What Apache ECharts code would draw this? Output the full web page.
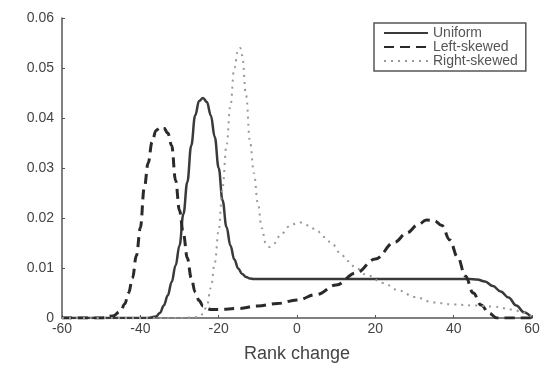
<!DOCTYPE html>
<html>
<head>
<meta charset="utf-8">
<script src="https://cdn.jsdelivr.net/npm/echarts@6/dist/echarts.min.js"></script>
<style>
  html, body { margin: 0; padding: 0; background: #fff; }
  #chart { width: 545px; height: 368px; }
</style>
</head>
<body>
<div id="chart"></div>
<script>
// values
const uniformX = [-60, -45, -38, -36, -35, -34, -33, -32, -31, -30, -29, -28, -27, -26, -25, -24, -23, -22, -21, -20, -19, -18, -17, -16, -15, -14, -13, -12, -11, 0, 20, 40, 44, 46, 48, 50, 52, 54, 56, 58, 60]
const uniformY = [0, 0, 0, 0.0003, 0.001, 0.0025, 0.0045, 0.0072, 0.0105, 0.0145, 0.0208, 0.0272, 0.0345, 0.0405, 0.0434, 0.0440, 0.0432, 0.0405, 0.0362, 0.0300, 0.0235, 0.0182, 0.0145, 0.0117, 0.0099, 0.0088, 0.0082, 0.0079, 0.0078, 0.0078, 0.0078, 0.0078, 0.0078, 0.0077, 0.0073, 0.0064, 0.0053, 0.0041, 0.0025, 0.0011, 0]

const leftX = [-60, -50, -47, -45, -44, -43, -42, -41, -40, -39, -38, -37, -36, -35, -34.5, -34, -33, -32, -31, -30, -29, -28, -27, -26, -25, -24, -23, -22, -20, -15, -10, -5, 0, 5, 10, 15, 20, 25, 28, 31, 33, 35, 37, 39, 41, 43, 45, 47, 49, 51, 60]
const leftY = [0, 0, 0.0004, 0.0014, 0.0028, 0.0050, 0.0080, 0.0125, 0.0180, 0.0260, 0.0310, 0.0352, 0.0375, 0.0381, 0.0382, 0.0380, 0.0370, 0.0345, 0.0275, 0.0215, 0.0168, 0.0120, 0.0080, 0.0052, 0.0035, 0.0024, 0.0019, 0.0017, 0.0017, 0.0019, 0.0024, 0.0029, 0.0036, 0.0047, 0.0066, 0.0090, 0.0118, 0.0152, 0.0170, 0.0187, 0.0196, 0.0195, 0.0185, 0.0156, 0.0122, 0.0084, 0.0050, 0.0026, 0.0010, 0, 0]

const rightX = [-60, -30, -25, -24, -23, -22, -21, -20, -19, -18, -17, -16, -15, -14.5, -14, -13, -12, -11, -10, -9, -8, -7, -6, -4, -2, 0, 1, 3, 5, 7, 9, 11, 13, 15, 18, 22, 26, 30, 35, 40, 45, 50, 55, 58, 60]
const rightY = [0, 0, 0.0002, 0.0008, 0.0025, 0.006, 0.011, 0.0175, 0.0262, 0.0345, 0.0425, 0.0500, 0.0538, 0.0540, 0.0525, 0.0445, 0.0353, 0.0290, 0.0230, 0.0180, 0.0150, 0.0142, 0.0148, 0.0168, 0.0183, 0.0190, 0.0191, 0.0185, 0.0175, 0.0162, 0.0148, 0.0130, 0.0114, 0.0100, 0.0085, 0.0070, 0.0055, 0.0042, 0.0031, 0.0027, 0.0025, 0.0023, 0.0017, 0.0010, 0.0002]

const seriesNames = ['Uniform', 'Left-skewed', 'Right-skewed']

const pairs = (xs, ys) => xs.map((x, i) => [x, ys[i]])

const chart = echarts.init(document.getElementById('chart'))
const font = 'Liberation Sans, Arial, sans-serif'

const option = {
    animation : false,
    backgroundColor : '#fff',
    grid : {
        left : 62,
        right : 13,
        top : 18,
        bottom : 46
    },
    legend : {
        data : seriesNames,
        orient : 'vertical',
        left : 374,
        top : 23,
        padding : [3, 8, 3, 9],
        itemWidth : 44,
        itemHeight : 12,
        itemGap : 0,
        borderColor : '#555',
        borderWidth : 1.5,
        // hide the marker dot, keep only the line sample
        itemStyle : {
            color : 'rgba(0,0,0,0)',
            borderColor : 'rgba(0,0,0,0)',
            borderWidth : 0
        },
        textStyle : {
            fontFamily : font,
            fontSize : 14,
            color : '#555'
        }
    },
    xAxis : {
        type : 'value',
        min : -60,
        max : 60,
        interval : 20,
        name : 'Rank change',
        nameLocation : 'middle',
        nameGap : 27,
        nameTextStyle : {
            fontFamily : font,
            fontSize : 18,
            color : '#444'
        },
        axisLine : { lineStyle : { color : '#555', width : 1.5 } },
        axisTick : { inside : true, length : 3, lineStyle : { color : '#555' } },
        axisLabel : {
            fontFamily : font,
            fontSize : 14,
            color : '#444',
            margin : 4
        },
        splitLine : { show : false }
    },
    yAxis : {
        type : 'value',
        min : 0,
        max : 0.06,
        interval : 0.01,
        axisLine : { show : true, onZero : false, lineStyle : { color : '#555', width : 1.5 } },
        axisTick : { show : true, inside : true, length : 3, lineStyle : { color : '#555' } },
        axisLabel : {
            fontFamily : font,
            fontSize : 14,
            color : '#444',
            margin : 8,
            formatter : (v) => v === 0 ? '0' : v.toFixed(2)
        },
        splitLine : { show : false }
    },
    series : [
        {
            name : seriesNames[0],
            type : 'line',
            data : pairs(uniformX, uniformY),
            symbol : 'none',
            smooth : 0.4,
            smoothMonotone : 'x',
            lineStyle : { color : '#3a3a3a', width : 2.5 },
            itemStyle : { color : '#3a3a3a' }
        },
        {
            name : seriesNames[1],
            type : 'line',
            data : pairs(leftX, leftY),
            symbol : 'none',
            smooth : 0.4,
            smoothMonotone : 'x',
            lineStyle : { color : '#2a2a2a', width : 3, type : [10, 6] },
            itemStyle : { color : '#2a2a2a' }
        },
        {
            name : seriesNames[2],
            type : 'line',
            data : pairs(rightX, rightY),
            symbol : 'none',
            smooth : 0.4,
            smoothMonotone : 'x',
            lineStyle : { color : '#999', width : 2, type : [2, 5] },
            itemStyle : { color : '#999' }
        }
    ]
}
chart.setOption(option)
</script>
</body>
</html>
